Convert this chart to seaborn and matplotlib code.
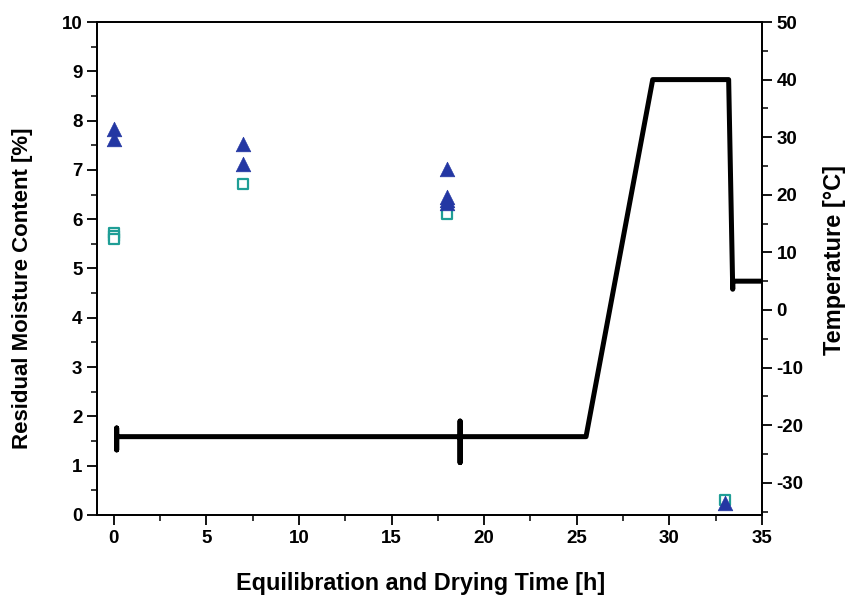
import matplotlib
matplotlib.use("Agg")
import matplotlib.pyplot as plt
import seaborn as sns
import pandas as pd
from matplotlib.ticker import MultipleLocator

# Residual moisture data
tri_time = [0, 0, 7, 7, 18, 18, 18, 18, 33]
tri_moist = [7.82, 7.62, 7.53, 7.12, 7.02, 6.45, 6.38, 6.32, 0.24]
sq_time = [0, 0, 0, 7, 18, 33]
sq_moist = [5.72, 5.66, 5.60, 6.72, 6.10, 0.30]

# Temperature profile
temp_time = [0.16, 0.16, 0.16, 0.16, 18.7, 18.7, 18.7, 18.7, 25.5, 29.1, 33.2, 33.42, 33.42, 35.0]
temp_val = [-22.0, -20.5, -24.3, -22.0, -22.0, -19.3, -26.5, -22.0, -22.0, 40.0, 40.0, 3.6, 5.0, 5.0]

sns.set_theme(style="ticks")
plt.rcParams['font.family'] = ['Liberation Sans', 'DejaVu Sans']
plt.rcParams['font.weight'] = 'bold'
plt.rcParams['axes.unicode_minus'] = False
plt.rcParams['text.color'] = 'black'
plt.rcParams['axes.labelcolor'] = 'black'

fig = plt.figure(figsize=(8.46, 5.95), dpi=100)
ax = fig.add_axes([0.1147, 0.1345, 0.786, 0.8285])
ax2 = ax.twinx()

df_tri = pd.DataFrame({"t": tri_time, "m": tri_moist})
df_sq = pd.DataFrame({"t": sq_time, "m": sq_moist})
df_temp = pd.DataFrame({"t": temp_time, "T": temp_val})

sns.lineplot(data=df_temp, x="t", y="T", ax=ax2, sort=False, estimator=None,
             color="black", linewidth=3.6, zorder=2)
sns.scatterplot(data=df_sq, x="t", y="m", ax=ax, marker="s", s=55,
                facecolor="white", edgecolor="#1f9e96", linewidth=1.6, zorder=3)
sns.scatterplot(data=df_tri, x="t", y="m", ax=ax, marker="^", s=110,
                color="#2437a3", edgecolor="#2437a3", linewidth=0.5, zorder=4)

ax.set_zorder(ax2.get_zorder() + 1)
ax.patch.set_visible(False)

ax.set_xlim(-0.9, 35)
ax.set_ylim(0, 10)
ax2.set_ylim(-35.6, 50)

ax.xaxis.set_major_locator(MultipleLocator(5))
ax.xaxis.set_minor_locator(MultipleLocator(2.5))
ax.yaxis.set_major_locator(MultipleLocator(1))
ax.yaxis.set_minor_locator(MultipleLocator(0.5))
ax2.yaxis.set_major_locator(MultipleLocator(10))
ax2.yaxis.set_minor_locator(MultipleLocator(5))

for a in (ax, ax2):
    a.tick_params(which="major", direction="out", length=7, width=1.3,
                  labelsize=13.5, colors="black")
    a.tick_params(which="minor", direction="out", length=4, width=1.3)
    for sp in a.spines.values():
        sp.set_linewidth(1.3)
        sp.set_color("black")
        sp.set_visible(True)
    for lbl in a.get_xticklabels() + a.get_yticklabels():
        lbl.set_fontweight("bold")

ax.set_xlabel("Equilibration and Drying Time [h]", fontsize=16.8, fontweight="bold",
              labelpad=18, color="black")
ax.set_ylabel("Residual Moisture Content [%]", fontsize=16, fontweight="bold",
              labelpad=21, color="black")
ax2.set_ylabel("Temperature [°C]", fontsize=17, fontweight="bold",
               labelpad=14, color="black")
ax.xaxis.label.set_x(0.487)
ax.yaxis.label.set_y(0.46)
ax2.yaxis.label.set_y(0.517)

fig.savefig("out.png", dpi=100)
